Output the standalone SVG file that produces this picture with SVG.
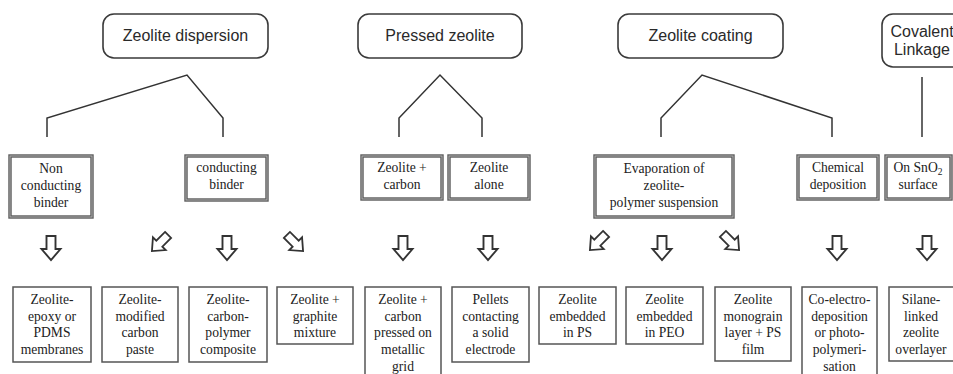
<svg xmlns="http://www.w3.org/2000/svg" xmlns:xlink="http://www.w3.org/1999/xlink" width="953" height="374" viewBox="0 0 953 374">
<style>
.top rect{fill:#fff;stroke:#3a3a3a;stroke-width:1.6}
.top text{font-family:"Liberation Sans",Arial,sans-serif;font-size:16px;fill:#2a2a2a;text-anchor:middle}
.mid .o{fill:#fff;stroke:#5a5a5a;stroke-width:3.4}
.mid .i{fill:none;stroke:#b8b8b8;stroke-width:0.9}
.mid text,.bot text{font-family:"Liberation Serif","Times New Roman",serif;font-size:13.6px;fill:#222;text-anchor:middle}
.bot rect{fill:#fff;stroke:#555;stroke-width:1.5}
.conn path{fill:none;stroke:#333;stroke-width:1.5}
.arrows use{fill:#fff;stroke:#333;stroke-width:1.9}
</style>
<defs>
<path id="arr" d="M-4.5,-12 H4.5 V1 H9.5 L0,12 L-9.5,1 H-4.5 Z" stroke-linejoin="miter"/>
</defs>
<rect width="953" height="374" fill="#fff"/>

<g id="n-dispersion" class="top"><rect x="103" y="14" width="165" height="44" rx="11"/><text x="185.5" y="41">Zeolite dispersion</text></g>
<g id="n-pressed" class="top"><rect x="358" y="14" width="164" height="44" rx="11"/><text x="440" y="41">Pressed zeolite</text></g>
<g id="n-coating" class="top"><rect x="618" y="14" width="165" height="44" rx="11"/><text x="700.5" y="41">Zeolite coating</text></g>
<g id="n-covalent" class="top"><rect x="882" y="14" width="90" height="53" rx="11"/><text x="922" y="37">Covalent</text><text x="922" y="55">Linkage</text></g>

<g class="conn" id="connectors">
<path d="M47,137 V118 L187,75 L223,118 V137"/>
<path d="M399,137 V118 L440,75 L482,118 V137"/>
<path d="M661,137 V118 L702,75 L832,118 V137"/>
<path d="M922,77 V137"/>
</g>

<g id="n-nonconducting" class="mid"><rect class="o" x="10" y="156" width="82" height="61"/><rect class="i" x="10" y="156" width="82" height="61"/><text x="51" y="173">Non</text><text x="51" y="190">conducting</text><text x="51" y="207">binder</text></g>
<g id="n-conducting" class="mid"><rect class="o" x="186" y="156" width="81" height="44"/><rect class="i" x="186" y="156" width="81" height="44"/><text x="226.5" y="172">conducting</text><text x="226.5" y="189">binder</text></g>
<g id="n-zeocarbon" class="mid"><rect class="o" x="362" y="156" width="80" height="43"/><rect class="i" x="362" y="156" width="80" height="43"/><text x="402" y="172">Zeolite +</text><text x="402" y="189">carbon</text></g>
<g id="n-zeoalone" class="mid"><rect class="o" x="449" y="156" width="80" height="43"/><rect class="i" x="449" y="156" width="80" height="43"/><text x="489" y="172">Zeolite</text><text x="489" y="189">alone</text></g>
<g id="n-evaporation" class="mid"><rect class="o" x="595" y="156" width="138" height="61"/><rect class="i" x="595" y="156" width="138" height="61"/><text x="664" y="173">Evaporation of</text><text x="664" y="190">zeolite-</text><text x="664" y="207">polymer suspension</text></g>
<g id="n-chemical" class="mid"><rect class="o" x="798" y="156" width="80" height="43"/><rect class="i" x="798" y="156" width="80" height="43"/><text x="838" y="172">Chemical</text><text x="838" y="189">deposition</text></g>
<g id="n-sno2" class="mid"><rect class="o" x="886" y="156" width="65" height="43"/><rect class="i" x="886" y="156" width="65" height="43"/><text x="918" y="172">On SnO<tspan font-size="9.5" dy="3">2</tspan></text><text x="918" y="189">surface</text></g>

<g class="arrows" id="arrows">
<use xlink:href="#arr" href="#arr" transform="translate(51,248)"/>
<use xlink:href="#arr" href="#arr" transform="translate(160,243) rotate(45) scale(0.95)"/>
<use xlink:href="#arr" href="#arr" transform="translate(227,248)"/>
<use xlink:href="#arr" href="#arr" transform="translate(295,243) rotate(-45) scale(0.95)"/>
<use xlink:href="#arr" href="#arr" transform="translate(403,248)"/>
<use xlink:href="#arr" href="#arr" transform="translate(488,248)"/>
<use xlink:href="#arr" href="#arr" transform="translate(598,242) rotate(45) scale(0.95)"/>
<use xlink:href="#arr" href="#arr" transform="translate(662,248)"/>
<use xlink:href="#arr" href="#arr" transform="translate(731,242) rotate(-45) scale(0.95)"/>
<use xlink:href="#arr" href="#arr" transform="translate(837,248)"/>
<use xlink:href="#arr" href="#arr" transform="translate(927,248)"/>
</g>

<g id="b-epoxy" class="bot"><rect x="13" y="287" width="78" height="75"/><text x="52" y="304">Zeolite-</text><text x="52" y="320.7">epoxy or</text><text x="52" y="337.3">PDMS</text><text x="52" y="354">membranes</text></g>
<g id="b-paste" class="bot"><rect x="102" y="287" width="76" height="75"/><text x="140" y="304">Zeolite-</text><text x="140" y="320.7">modified</text><text x="140" y="337.3">carbon</text><text x="140" y="354">paste</text></g>
<g id="b-composite" class="bot"><rect x="189" y="287" width="78" height="75"/><text x="228" y="304">Zeolite-</text><text x="228" y="320.7">carbon-</text><text x="228" y="337.3">polymer</text><text x="228" y="354">composite</text></g>
<g id="b-graphite" class="bot"><rect x="277" y="287" width="76" height="57"/><text x="315" y="304">Zeolite +</text><text x="315" y="320.7">graphite</text><text x="315" y="337.3">mixture</text></g>
<g id="b-grid" class="bot"><rect x="365" y="287" width="76" height="92"/><text x="403" y="304">Zeolite +</text><text x="403" y="320.7">carbon</text><text x="403" y="337.3">pressed on</text><text x="403" y="354">metallic</text><text x="403" y="370.7">grid</text></g>
<g id="b-pellets" class="bot"><rect x="452" y="287" width="77" height="75"/><text x="490.5" y="304">Pellets</text><text x="490.5" y="320.7">contacting</text><text x="490.5" y="337.3">a solid</text><text x="490.5" y="354">electrode</text></g>
<g id="b-ps" class="bot"><rect x="539" y="287" width="77" height="57"/><text x="577.5" y="304">Zeolite</text><text x="577.5" y="320.7">embedded</text><text x="577.5" y="337.3">in PS</text></g>
<g id="b-peo" class="bot"><rect x="626" y="287" width="77" height="57"/><text x="664.5" y="304">Zeolite</text><text x="664.5" y="320.7">embedded</text><text x="664.5" y="337.3">in PEO</text></g>
<g id="b-monograin" class="bot"><rect x="715" y="287" width="76" height="74"/><text x="753" y="304">Zeolite</text><text x="753" y="320.7">monograin</text><text x="753" y="337.3">layer + PS</text><text x="753" y="354">film</text></g>
<g id="b-coelectro" class="bot"><rect x="802" y="287" width="75" height="92"/><text x="839.5" y="304">Co-electro-</text><text x="839.5" y="320.7">deposition</text><text x="839.5" y="337.3">or photo-</text><text x="839.5" y="354">polymeri-</text><text x="839.5" y="370.7">sation</text></g>
<g id="b-silane" class="bot"><rect x="889" y="287" width="80" height="74"/><text x="921" y="304">Silane-</text><text x="921" y="320.7">linked</text><text x="921" y="337.3">zeolite</text><text x="921" y="354">overlayer</text></g>
</svg>
